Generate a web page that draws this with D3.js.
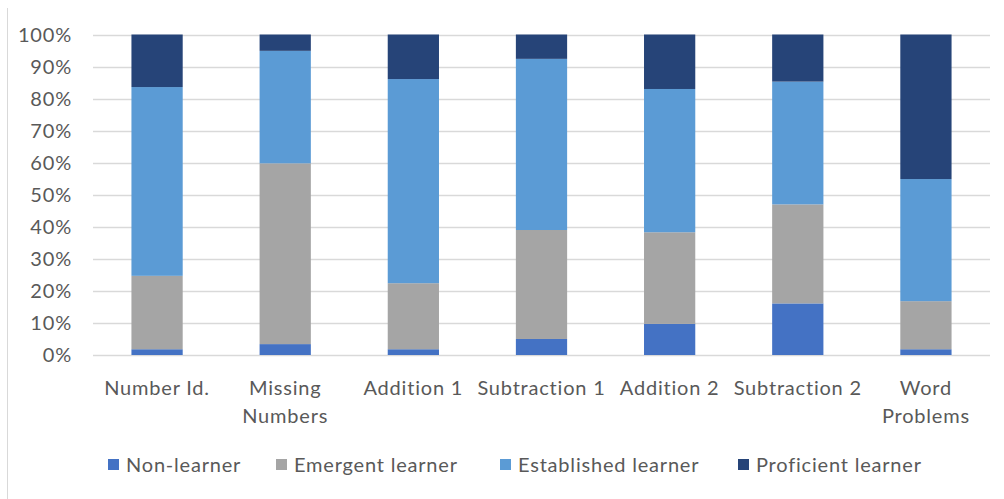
<!DOCTYPE html>
<html>
<head>
<meta charset="utf-8">
<script src="https://cdn.jsdelivr.net/npm/d3@7"></script>
<style>
  body { margin: 0; background: #fff; }
  text { font-family: Lato, "Open Sans", sans-serif; fill: #595959; font-size: 20px; letter-spacing: 0.8px; }
</style>
</head>
<body>
<div class="plot"></div>
<script>
// categories and the four learner levels (percent of pupils)
var categories = ["Number Id.", "Missing Numbers", "Addition 1", "Subtraction 1", "Addition 2", "Subtraction 2", "Word Problems"];
var nonLearner = [1.8, 3.4, 1.8, 5.0, 9.7, 16.1, 1.8];
var emergent = [22.9, 56.4, 20.6, 34.0, 28.6, 30.9, 15.0];
var established = [58.9, 35.1, 63.7, 53.4, 44.7, 38.3, 38.1];
var proficient = [16.4, 5.1, 13.9, 7.6, 17.0, 14.7, 45.1];
var seriesNames = ["Non-learner", "Emergent learner", "Established learner", "Proficient learner"];
var yTicks = [0, 10, 20, 30, 40, 50, 60, 70, 80, 90, 100];

var colors = ["#4472c4", "#a5a5a5", "#5b9bd5", "#264478"];

var width = 1004, height = 499;
var margin = {top: 34.5, right: 14, bottom: 144, left: 93};

var svg = d3.select(".plot")
  .append("svg")
  .attr("width", width)
  .attr("height", height);

// frame edge on the left
svg.append("line")
  .attr("x1", 7.5).attr("x2", 7.5)
  .attr("y1", 8).attr("y2", height)
  .attr("stroke", "#d9d9d9");

var x = d3.scaleBand()
  .domain(categories)
  .range([margin.left, width - margin.right])
  .paddingInner(0.6)
  .paddingOuter(0.3);

var y = d3.scaleLinear()
  .domain([0, 100])
  .range([height - margin.bottom, margin.top]);

// gridlines
svg.append("g")
  .selectAll("line")
  .data(yTicks)
  .enter()
  .append("line")
    .attr("x1", margin.left)
    .attr("x2", width - margin.right)
    .attr("y1", function(d) { return Math.round(y(d)) + 0.5; })
    .attr("y2", function(d) { return Math.round(y(d)) + 0.5; })
    .attr("stroke", "#d9d9d9")
    .attr("stroke-width", 1.3);

// y labels
svg.append("g")
  .selectAll("text")
  .data(yTicks)
  .enter()
  .append("text")
    .attr("x", 72)
    .attr("y", function(d) { return y(d); })
    .attr("dy", "0.35em")
    .attr("text-anchor", "end")
    .text(function(d) { return d + "%"; });

// stack the series
var rows = categories.map(function(c, i) {
  return {cat: c, s0: nonLearner[i], s1: emergent[i], s2: established[i], s3: proficient[i]};
});
var stack = d3.stack().keys(["s0", "s1", "s2", "s3"]);
var layers = stack(rows);

svg.append("g")
  .selectAll("g")
  .data(layers)
  .enter()
  .append("g")
    .attr("fill", function(d, i) { return colors[i]; })
  .selectAll("rect")
  .data(function(d) { return d; })
  .enter()
  .append("rect")
    .attr("x", function(d) { return x(d.data.cat); })
    .attr("width", x.bandwidth())
    .attr("y", function(d) { return y(d[1]); })
    .attr("height", function(d) { return y(d[0]) - y(d[1]); });

// category labels, wrapped like the original
var wrapped = {"Missing Numbers": ["Missing", "Numbers"], "Word Problems": ["Word", "Problems"]};
var xlab = svg.append("g")
  .selectAll("text")
  .data(categories)
  .enter()
  .append("text")
    .attr("x", function(d) { return x(d) + x.bandwidth() / 2; })
    .attr("y", 395)
    .attr("text-anchor", "middle");

xlab.each(function(d) {
  var lines = wrapped[d] || [d];
  var t = d3.select(this);
  lines.forEach(function(l, i) {
    t.append("tspan")
      .attr("x", x(d) + x.bandwidth() / 2)
      .attr("dy", i == 0 ? 0 : 28)
      .text(l);
  });
});

// legend
var legendX = [108, 276, 500, 738];
var legend = svg.append("g").attr("class", "legend");
legend.selectAll("rect")
  .data(seriesNames)
  .enter()
  .append("rect")
    .attr("x", function(d, i) { return legendX[i]; })
    .attr("y", 459)
    .attr("width", 11)
    .attr("height", 11)
    .attr("fill", function(d, i) { return colors[i]; });

legend.selectAll("text")
  .data(seriesNames)
  .enter()
  .append("text")
    .attr("x", function(d, i) { return legendX[i] + 18; })
    .attr("y", 465)
    .attr("dy", "0.35em")
    .text(function(d) { return d; });
</script>
</body>
</html>
